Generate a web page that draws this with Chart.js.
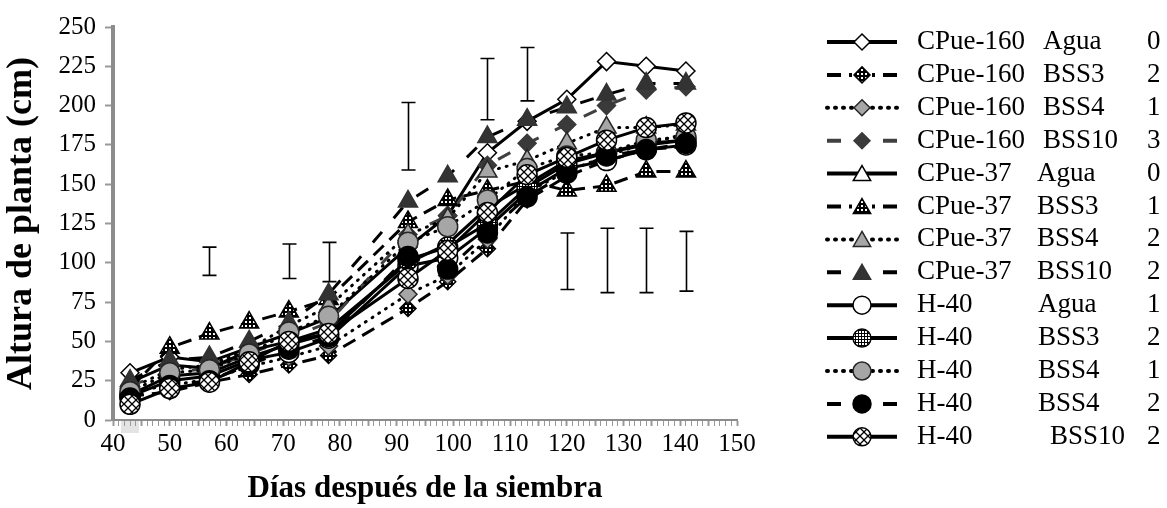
<!DOCTYPE html>
<html>
<head>
<meta charset="utf-8">
<script src="https://cdn.jsdelivr.net/npm/chart.js@4.4.1/dist/chart.umd.min.js"></script>
<style>
  html, body { margin: 0; padding: 0; background: #fff; }
  #wrap { width: 1167px; height: 508px; }
</style>
</head>
<body>
<div id="wrap"><canvas id="grafico" width="1167" height="508"></canvas></div>
<script>
// dias de muestreo
const dias = [43, 50, 57, 64, 71, 78, 92, 99, 106, 113, 120, 127, 134, 141];

// altura de planta (cm) por variedad / tratamiento
const cpue160Agua  = [30, 40, 37, 46, 55, 65, 110, 130, 170, 190, 204, 228, 225, 222];
const cpue160Bss3  = [15, 18, 24, 29, 35, 41, 71, 88, 109, 140, 155, 165, 172, 174];
const cpue160Bss4  = [18, 22, 26, 34, 40, 47, 80, 92, 115, 145, 158, 168, 176, 182];
const cpue160Bss10 = [22, 30, 33, 42, 52, 62, 118, 130, 162, 176, 188, 200, 210, 212];
const cpue37Agua   = [24, 35, 33, 44, 50, 58, 100, 112, 135, 150, 165, 170, 175, 178];
const cpue37Bss3   = [20, 46, 55, 62, 69, 77, 126, 140, 146, 152, 146, 149, 158, 158];
const cpue37Bss4   = [20, 32, 35, 45, 60, 72, 118, 128, 158, 165, 176, 186, 186, 188];
const cpue37Bss10  = [25, 38, 40, 50, 62, 80, 139, 155, 180, 191, 199, 207, 214, 214];
const h40Agua      = [15, 25, 28, 38, 43, 52, 98, 103, 122, 145, 160, 165, 172, 175];
const h40Bss3      = [16, 28, 30, 40, 48, 55, 102, 110, 125, 148, 163, 170, 176, 178];
const h40Bss4a     = [18, 30, 32, 42, 56, 66, 113, 123, 140, 160, 168, 170, 178, 180];
const h40Bss4b     = [14, 22, 25, 35, 45, 53, 104, 96, 119, 142, 157, 168, 172, 176];
const h40Bss10     = [10, 20, 24, 37, 50, 55, 90, 108, 132, 156, 167, 178, 186, 189];

// barras de error
const errDias = [57, 71, 78, 92, 106, 113, 120, 127, 134, 141];
const errBajo = [92, 90, 88, 159, 191, 203, 83, 81, 81, 82];
const errAlto = [110, 112, 113, 202, 230, 237, 119, 122, 122, 120];

// leyenda
const variedades = ['CPue-160', 'CPue-160', 'CPue-160', 'CPue-160', 'CPue-37', 'CPue-37', 'CPue-37', 'CPue-37', 'H-40', 'H-40', 'H-40', 'H-40', 'H-40'];
const tratamientos = ['Agua', 'BSS3', 'BSS4', 'BSS10', 'Agua', 'BSS3', 'BSS4', 'BSS10', 'Agua', 'BSS3', 'BSS4', 'BSS4', 'BSS10'];
const grupos = ['0', '2', '1', '3', '0', '1', '2', '2', '1', '2', '1', '2', '2'];

const series = [cpue160Agua, cpue160Bss3, cpue160Bss4, cpue160Bss10, cpue37Agua, cpue37Bss3, cpue37Bss4, cpue37Bss10,
                h40Agua, h40Bss3, h40Bss4a, h40Bss4b, h40Bss10];

const FONT = "'Liberation Serif', 'Times New Roman', serif";

// patrones de relleno
function patronPuntos() {
  const c = document.createElement('canvas'); c.width = 4; c.height = 4;
  const g = c.getContext('2d');
  g.fillStyle = '#000'; g.fillRect(0, 0, 4, 4);
  g.fillStyle = '#fff'; g.fillRect(1, 1, 2, 2);
  return document.getElementById('grafico').getContext('2d').createPattern(c, 'repeat');
}
function patronRejilla() {
  const c = document.createElement('canvas'); c.width = 3; c.height = 3;
  const g = c.getContext('2d');
  g.fillStyle = '#fff'; g.fillRect(0, 0, 3, 3);
  g.fillStyle = '#000'; g.fillRect(0, 0, 3, 1); g.fillRect(0, 0, 1, 3);
  return document.getElementById('grafico').getContext('2d').createPattern(c, 'repeat');
}
function patronCuadros() {
  const c = document.createElement('canvas'); c.width = 8; c.height = 8;
  const g = c.getContext('2d');
  g.fillStyle = '#fff'; g.fillRect(0, 0, 8, 8);
  g.strokeStyle = '#000'; g.lineWidth = 1.3;
  g.beginPath();
  g.moveTo(-1, -1); g.lineTo(9, 9);
  g.moveTo(9, -1); g.lineTo(-1, 9);
  g.stroke();
  return document.getElementById('grafico').getContext('2d').createPattern(c, 'repeat');
}
const pPuntos = patronPuntos();
const pRejilla = patronRejilla();
const pCuadros = patronCuadros();

const dashLargo = [14, 8];
const dashSeparado = [14, 18];
const punteado = [1, 7];

const estilos = [
  { forma: 'rectRot', r: 9, fondo: '#fff', borde: '#000', linea: '#000', dash: [] },
  { forma: 'rectRot', r: 8, fondo: pPuntos, borde: '#000', linea: '#000', dash: dashLargo },
  { forma: 'rectRot', r: 9, fondo: '#a6a6a6', borde: '#262626', linea: '#000', dash: punteado },
  { forma: 'rectRot', r: 9, fondo: '#3a3a3a', borde: '#3a3a3a', linea: '#404040', dash: dashSeparado },
  { forma: 'triangle', r: 11, fondo: '#fff', borde: '#000', linea: '#000', dash: [] },
  { forma: 'triangle', r: 11, fondo: pPuntos, borde: '#000', linea: '#000', dash: dashLargo },
  { forma: 'triangle', r: 11, fondo: '#a6a6a6', borde: '#262626', linea: '#000', dash: punteado },
  { forma: 'triangle', r: 11, fondo: '#333', borde: '#333', linea: '#000', dash: dashSeparado },
  { forma: 'circle', r: 10, fondo: '#fff', borde: '#000', linea: '#000', dash: [] },
  { forma: 'circle', r: 10, fondo: pRejilla, borde: '#000', linea: '#000', dash: [] },
  { forma: 'circle', r: 10, fondo: '#a6a6a6', borde: '#262626', linea: '#000', dash: punteado },
  { forma: 'circle', r: 10, fondo: '#000', borde: '#000', linea: '#000', dash: dashSeparado },
  { forma: 'circle', r: 10, fondo: pCuadros, borde: '#000', linea: '#000', dash: [] }
];

const datasets = series.map((vals, i) => {
  const e = estilos[i];
  return {
    label: variedades[i] + ' ' + tratamientos[i] + ' ' + grupos[i],
    data: dias.map((d, k) => ({ x: d, y: vals[k] })),
    borderColor: e.linea,
    borderWidth: 3,
    borderDash: e.dash,
    borderCapStyle: e.dash === punteado ? 'round' : 'butt',
    tension: 0,
    pointStyle: e.forma,
    pointRadius: e.r,
    pointBackgroundColor: e.fondo,
    pointBorderColor: e.borde,
    pointBorderWidth: 1.5,
    order: series.length - i
  };
});

function dibujaMarca(ctx, forma, x, y, r, fondo, borde) {
  ctx.beginPath();
  if (forma === 'circle') {
    ctx.arc(x, y, r, 0, Math.PI * 2);
  } else if (forma === 'rectRot') {
    ctx.moveTo(x, y - r); ctx.lineTo(x + r, y); ctx.lineTo(x, y + r); ctx.lineTo(x - r, y);
  } else {
    const t = 2 * Math.PI / 3;
    ctx.moveTo(x, y - r);
    ctx.lineTo(x + Math.sin(t) * r, y - Math.cos(t) * r);
    ctx.lineTo(x + Math.sin(2 * t) * r, y - Math.cos(2 * t) * r);
  }
  ctx.closePath();
  ctx.fillStyle = fondo; ctx.fill();
  ctx.setLineDash([]);
  ctx.lineWidth = 1.5; ctx.strokeStyle = borde; ctx.stroke();
}

const cajaGris = {
  id: 'cajaGris',
  beforeDraw(chart) {
    const { ctx, scales: { x, y } } = chart;
    const x0 = x.getPixelForValue(dias[0] - 1.6), x1 = x.getPixelForValue(dias[0] + 1.6);
    const yb = y.getPixelForValue(0);
    ctx.save();
    ctx.fillStyle = '#e4e4e4';
    ctx.fillRect(x0, yb + 1, x1 - x0, 12);
    ctx.restore();
  }
};

const barrasError = {
  id: 'barrasError',
  afterDatasetsDraw(chart) {
    const { ctx, scales: { x, y } } = chart;
    ctx.save();
    ctx.strokeStyle = '#000'; ctx.lineWidth = 1.6; ctx.setLineDash([]);
    errDias.forEach((d, i) => {
      const px = Math.round(x.getPixelForValue(d)) + 0.5;
      const y0 = y.getPixelForValue(errBajo[i]), y1 = y.getPixelForValue(errAlto[i]);
      ctx.beginPath();
      ctx.moveTo(px, y0); ctx.lineTo(px, y1);
      ctx.moveTo(px - 7, y0); ctx.lineTo(px + 7, y0);
      ctx.moveTo(px - 7, y1); ctx.lineTo(px + 7, y1);
      ctx.stroke();
    });
    ctx.restore();
  }
};

const leyenda = {
  id: 'leyenda',
  afterDraw(chart) {
    const ctx = chart.ctx;
    const sets = chart.data.datasets;
    ctx.save();
    ctx.font = '27px ' + FONT;
    ctx.fillStyle = '#000';
    ctx.textBaseline = 'middle';
    sets.forEach((ds, i) => {
      const e = estilos[i];
      const yy = 42 + i * 32.9;
      ctx.beginPath();
      ctx.setLineDash(e.dash);
      ctx.lineCap = e.dash === punteado ? 'round' : 'butt';
      ctx.lineWidth = 4;
      ctx.strokeStyle = e.linea;
      if (e.dash.length) {
        ctx.moveTo(827, yy); ctx.lineTo(852, yy);
        ctx.moveTo(897, yy); ctx.lineTo(872, yy);
      } else {
        ctx.moveTo(827, yy); ctx.lineTo(897, yy);
      }
      ctx.stroke();
      const r = e.forma === 'triangle' ? 10 : (e.forma === 'circle' ? 9 : 8);
      dibujaMarca(ctx, e.forma, 862, yy + (e.forma === 'triangle' ? 2 : 0), r, e.fondo, e.borde);
      ctx.fillStyle = '#000';
      ctx.fillText(variedades[i], 917, yy);
      let c2 = variedades[i] === 'CPue-160' ? 1043 : (variedades[i] === 'CPue-37' ? 1037 : 1038);
      if (variedades[i] === 'H-40' && tratamientos[i] === 'BSS10') c2 = 1050;
      ctx.fillText(tratamientos[i], c2, yy);
      ctx.fillText(grupos[i], 1147, yy);
    });
    ctx.restore();
  }
};

new Chart(document.getElementById('grafico'), {
  type: 'line',
  data: { datasets: datasets },
  options: {
    responsive: false,
    animation: false,
    layout: { padding: { top: 27, right: 430, bottom: 0, left: 0 } },
    plugins: { legend: { display: false }, tooltip: { enabled: false } },
    scales: {
      x: {
        type: 'linear', min: 40, max: 150,
        afterFit(s) { s.height = 88; },
        ticks: {
          stepSize: 1, autoSkip: false, maxRotation: 0, padding: 3,
          color: '#000', font: { family: FONT, size: 25 },
          callback: v => (v % 10 === 0 ? v : '')
        },
        grid: {
          drawOnChartArea: false, tickLength: 6, tickColor: '#999',
          tickWidth: c => (c.tick && c.tick.value % 5 === 0 ? 2 : 1)
        },
        border: { color: '#8c8c8c', width: 2 },
        title: {
          display: true, text: 'Días después de la siembra', color: '#000',
          font: { family: FONT, size: 31, weight: 'bold' }, padding: { top: 4, bottom: 0 }
        }
      },
      y: {
        min: 0, max: 250,
        afterFit(s) { s.width = 113; },
        ticks: { stepSize: 25, padding: 9, color: '#000', font: { family: FONT, size: 25 } },
        grid: { drawOnChartArea: false, tickLength: 8, tickColor: '#999', tickWidth: 2 },
        border: { color: '#8c8c8c', width: 4 },
        title: {
          display: true, text: 'Altura de planta (cm)', color: '#000',
          font: { family: FONT, size: 36, weight: 'bold' }, padding: { top: 0, bottom: 0 }
        }
      }
    }
  },
  plugins: [cajaGris, barrasError, leyenda]
});
</script>
</body>
</html>
